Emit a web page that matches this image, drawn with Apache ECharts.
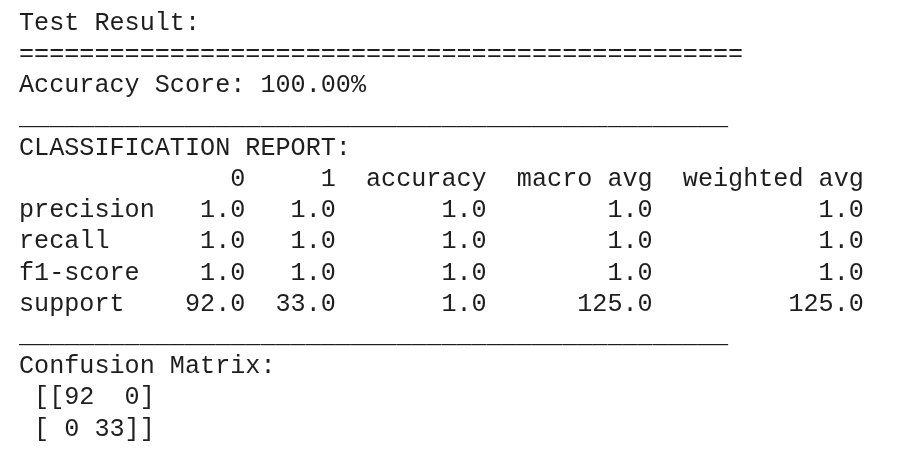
<!DOCTYPE html>
<html>
<head>
<meta charset="utf-8">
<script src="https://cdn.jsdelivr.net/npm/echarts@6/dist/echarts.min.js"></script>
<style>
  html, body { margin: 0; padding: 0; background: #fff; }
  #report { width: 924px; height: 466px; }
</style>
</head>
<body>
<div id="report"></div>
<script>
// report data
var accuracyScore = 100.00;
var columnNames = ['0', '1', 'accuracy', 'macro avg', 'weighted avg'];
var rowNames = ['precision', 'recall', 'f1-score', 'support'];
var precision = [1.0, 1.0, 1.0, 1.0, 1.0];
var recall = [1.0, 1.0, 1.0, 1.0, 1.0];
var f1Score = [1.0, 1.0, 1.0, 1.0, 1.0];
var support = [92.0, 33.0, 1.0, 125.0, 125.0];
var confusion = [[92, 0], [0, 33]];

var reportChart = echarts.init(document.getElementById('report'));

function pad(s, n, left) {
    s = String(s);
    while (s.length < n) s = left ? s + ' ' : ' ' + s;
    return s;
}

// build the text lines like pandas / numpy print them
var rows = [precision, recall, f1Score, support];
var idxWidth = Math.max.apply(null, rowNames.map(function (r) { return r.length; }));
var colWidths = columnNames.map(function (c, j) {
    var w = c.length;
    rows.forEach(function (r) { w = Math.max(w, r[j].toFixed(1).length); });
    return w;
});

var lines = [];
lines.push('Test Result:');
lines.push(new Array(49).join('='));
lines.push('Accuracy Score: ' + accuracyScore.toFixed(2) + '%');
lines.push(new Array(48).join('_'));
lines.push('CLASSIFICATION REPORT:');
var header = pad('', idxWidth, true);
columnNames.forEach(function (c, j) { header += '  ' + pad(c, colWidths[j]); });
lines.push(header);
rows.forEach(function (r, i) {
    var s = pad(rowNames[i], idxWidth, true);
    r.forEach(function (v, j) { s += '  ' + pad(v.toFixed(1), colWidths[j]); });
    lines.push(s);
});
lines.push(new Array(48).join('_'));
lines.push('Confusion Matrix: ');
var cellW = Math.max.apply(null, confusion.map(function (r) {
    return Math.max.apply(null, r.map(function (v) { return String(v).length; }));
}));
confusion.forEach(function (r, i) {
    var s = (i === 0 ? ' [[' : ' [') + r.map(function (v) { return pad(v, cellW); }).join(' ') + ']';
    if (i === confusion.length - 1) s += ']';
    lines.push(s);
});

var reportOption = {
    backgroundColor: '#ffffff',
    graphic: lines.map(function (t, i) {
        return {
            type: 'text',
            left: 19,
            top: Math.round(24 + i * 31.2 - 13),
            style: {
                text: t,
                fill: '#1e1e1e',
                font: '25.15px "Courier New", "Liberation Mono", monospace'
            }
        };
    })
};
reportChart.setOption(reportOption);
</script>
</body>
</html>
